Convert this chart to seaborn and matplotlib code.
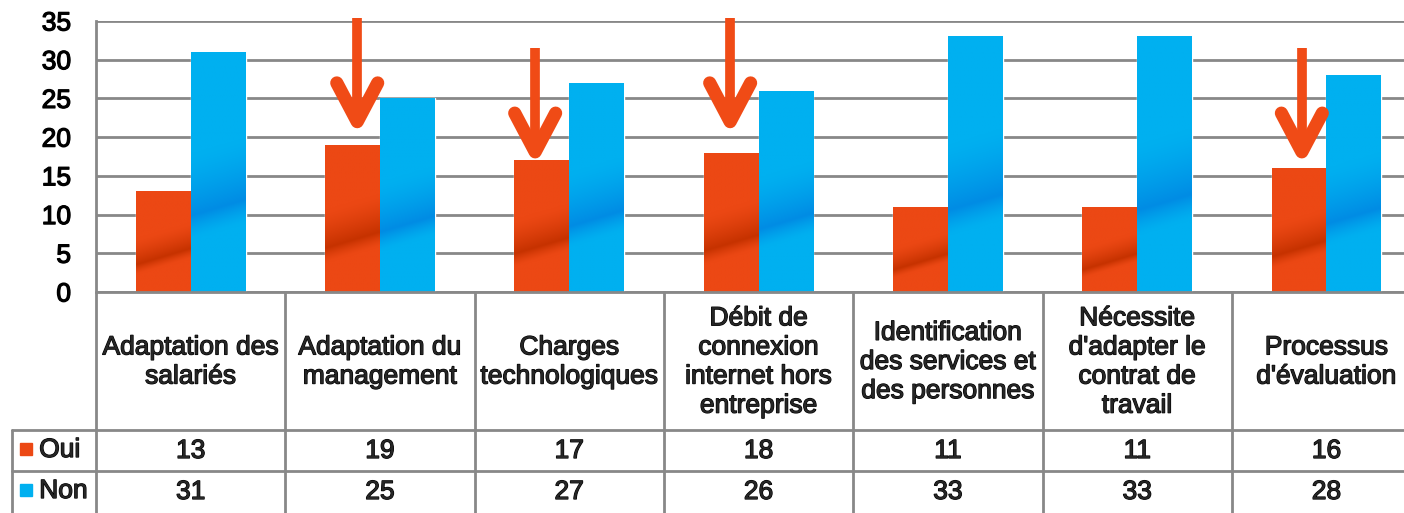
import numpy as np
import pandas as pd
import seaborn as sns
import matplotlib.pyplot as plt
import matplotlib.patheffects as pe
from matplotlib.colors import LinearSegmentedColormap

categories = ["Adaptation des\nsalariés", "Adaptation du\nmanagement", "Charges\ntechnologiques",
              "Débit de\nconnexion\ninternet hors\nentreprise", "Identification\ndes services et\ndes personnes",
              "Nécessite\nd'adapter le\ncontrat de\ntravail", "Processus\nd'évaluation"]
series = ["Oui", "Non"]
oui = [13, 19, 17, 18, 11, 11, 16]
non = [31, 25, 27, 26, 33, 33, 28]
yticks = [0, 5, 10, 15, 20, 25, 30, 35]

# red arrows drawn over the "Oui" bars
arrow_x = [0.88, 1.82, 2.85, 5.87]
arrow_top = [35.4, 31.5, 35.4, 31.5]
arrow_tip = [22.0, 18.1, 22.0, 18.1]

colors = {"Oui": "#EC4814", "Non": "#00B0F0"}
dark = {"Oui": "#C63200", "Non": "#008CE4"}
arrow_color = "#F04B16"
line_gray = "#888888"

df = pd.DataFrame({"categorie": categories * 2,
                   "serie": ["Oui"] * len(oui) + ["Non"] * len(non),
                   "valeur": oui + non})

sns.set_theme(style="white")
plt.rcParams["font.family"] = ["Liberation Sans", "DejaVu Sans"]
# the original text is a bit heavier than regular Arial
heavy = [pe.withStroke(linewidth=0.9, foreground="black")]

W, H = 1404, 513
cw = 189.3  # px per category
fig = plt.figure(figsize=(W / 100, H / 100), dpi=100)
ax = fig.add_axes([96 / W, 221 / H, 7 * cw / W, 271 / H])
tab = fig.add_axes([96 / W, 0, 7 * cw / W, 221 / H])

sns.barplot(data=df, x="categorie", y="valeur", hue="serie", hue_order=series,
            palette=colors, saturation=1, width=0.58, legend=False, ax=ax, zorder=2)

# gradient band like the original bars
for cont, s in zip(ax.containers, series):
    cmap = LinearSegmentedColormap.from_list(s, [colors[s], dark[s]])
    for bar in cont:
        x0, y0, w, h = bar.get_x(), bar.get_y(), bar.get_width(), bar.get_height()
        u = np.linspace(0, 1, 20)
        v = np.linspace(0, h, 300)
        U, V = np.meshgrid(u, v)
        c = 0.35 * h + 2.0 * (U - 0.5)
        d = V - c
        t = np.where(d >= 0, 1 - d / (0.26 * h), 1 + d / (0.10 * h))
        t = np.clip(t, 0, 1) ** 1.4
        im = ax.imshow(t, extent=(x0, x0 + w, y0, y0 + h), origin="lower", aspect="auto",
                       cmap=cmap, vmin=0, vmax=1, zorder=2.1, interpolation="bilinear")
        im.set_clip_path(bar)

for x, top, tip in zip(arrow_x, arrow_top, arrow_tip):
    ax.plot([x, x], [top, tip], color=arrow_color, lw=7, solid_capstyle="butt",
            clip_on=False, zorder=5)
    ax.plot([x - 0.108, x, x + 0.108], [tip + 5.0, tip, tip + 5.0], color=arrow_color, lw=9.5,
            solid_capstyle="round", solid_joinstyle="round", clip_on=False, zorder=5)

ax.set_xlim(-0.5, 6.5)
ax.set_ylim(0, 35)
ax.set_yticks(yticks)
ax.set_xticks([])
ax.set_xlabel("")
ax.set_ylabel("")
ax.grid(axis="y", color=line_gray, lw=2)
ax.set_axisbelow(True)
for side in ["top", "right", "bottom"]:
    ax.spines[side].set_visible(False)
ax.spines["left"].set_color(line_gray)
ax.spines["left"].set_linewidth(2)
ax.tick_params(axis="y", length=0, pad=18, labelsize=19, labelcolor="black")
for lab in ax.get_yticklabels():
    lab.set_path_effects(heavy)

# data table under the chart
tab.set_xlim(-0.5, 6.5)
tab.set_ylim(221, 0)
tab.axis("off")
left = -0.944
kw = dict(color=line_gray, lw=2, clip_on=False)
tab.plot([-0.5, 6.5], [0, 0], **kw)
tab.plot([left, 6.5], [138, 138], **kw)
tab.plot([left, 6.5], [179, 179], **kw)
tab.plot([left, left], [138, 221], **kw)
for i in range(8):
    tab.plot([i - 0.5, i - 0.5], [0, 221], **kw)

for i, lab in enumerate(categories):
    tab.text(i, 70, lab, ha="center", va="center", fontsize=19, linespacing=1.27,
             clip_on=False, path_effects=heavy)
for i, (a, b) in enumerate(zip(oui, non)):
    tab.text(i, 159, str(a), ha="center", va="center", fontsize=19, path_effects=heavy)
    tab.text(i, 200, str(b), ha="center", va="center", fontsize=19, path_effects=heavy)

for s, yy in zip(series, [157, 198]):
    tab.plot([-0.87], [yy], marker="s", ms=9, color=colors[s], clip_on=False)
    tab.text(-0.80, yy + 1, s, ha="left", va="center", fontsize=19, clip_on=False,
             path_effects=heavy)

fig.savefig("out.png", dpi=100, facecolor="white")
